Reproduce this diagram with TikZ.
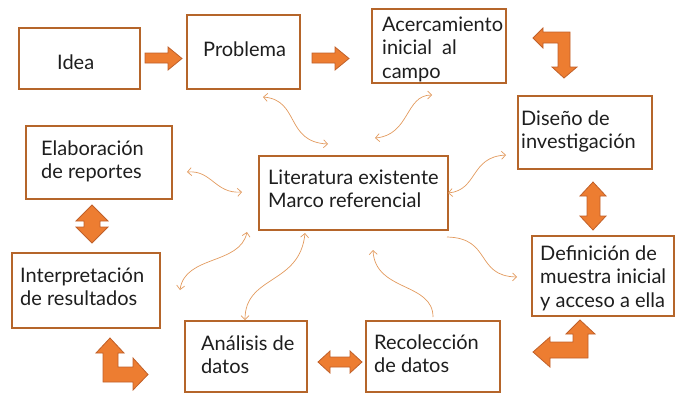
\documentclass[tikz,border=0pt]{standalone}
\usepackage{fontspec}
\setmainfont{Lato}
\usetikzlibrary{arrows.meta}
\definecolor{boxline}{HTML}{B5652A}
\definecolor{arrfill}{HTML}{ED7D31}
\definecolor{arrline}{HTML}{C0602A}
\definecolor{thin}{HTML}{E29A5E}
\definecolor{ink}{HTML}{1E1E1E}
\begin{document}
\begin{tikzpicture}[x=1pt,y=-1pt,
  box/.style={draw=boxline,line width=2.8pt,fill=white},
  txt/.style={anchor=base west,inner sep=0pt,text=ink,font=\fontsize{20}{23.5}\selectfont,align=left},
  blk/.style={fill=arrfill,draw=arrline,line width=0.8pt,line join=miter},
  curv/.style={draw=thin,line width=0.7pt},
  dbl/.style={curv,{Straight Barb[length=4pt,width=8pt]}-{Straight Barb[length=4pt,width=8pt]}},
  one/.style={curv,-{Straight Barb[length=4pt,width=8pt]}}]
\useasboundingbox (0,0) rectangle (676,394);
% boxes
\draw[box] (19,28) rectangle (140,89) coordinate (idea);
\draw[box] (187,15) rectangle (300,89) coordinate (prob);
\draw[box] (372,9) rectangle (506,83) coordinate (acer);
\draw[box] (518,96) rectangle (652,169) coordinate (dise);
\draw[box] (26,126) rectangle (172,199) coordinate (elab);
\draw[box] (259,156) rectangle (448,230) coordinate (lit);
\draw[box] (12,253) rectangle (160,328) coordinate (interp);
\draw[box] (185,321) rectangle (307,392) coordinate (anal);
\draw[box] (366,321) rectangle (500,392) coordinate (reco);
\draw[box] (532,236) rectangle (674,316) coordinate (defi);
% texts (anchored at the baseline of the last line)
\node[txt] (tidea) at (57,69) {Idea};
\node[txt] (tprob) at (203,56) {Problema};
\node[txt] (tacer) at (382,78) {Acercamiento\\inicial\ \ al\\campo};
\node[txt] (tdise) at (521,148.5) {Diseño de\\investigación};
\node[txt] (telab) at (41,178.5) {Elaboración\\de reportes};
\node[txt] (tlit) at (268,207.5) {Literatura existente\\Marco referencial};
\node[txt] (tinterp) at (20,305.5) {Interpretación\\de resultados};
\node[txt] (tanal) at (201,373.5) {Análisis de\\datos};
\node[txt] (treco) at (374,372.5) {Recolección\\de datos};
\node[txt] (tdefi) at (540,307) {Definición de\\muestra inicial\\y acceso a ella};
% block arrows
\draw[blk] (145,53)--(168,53)--(168,47)--(182,58.5)--(168,70)--(168,63)--(145,63)--cycle;
\draw[blk] (312,53)--(335,53)--(335,47)--(349,58.5)--(335,70)--(335,63)--(312,63)--cycle;
\draw[blk] (533,38)--(543,28)--(543,32)--(570,32)--(570,67)--(577,67)--(564,78)--(552,67)--(558,67)--(558,43)--(543,43)--(543,48)--cycle;
\draw[blk] (593,182)--(606,196)--(600,196)--(600,216)--(606,216)--(593,230)--(580,216)--(587,216)--(587,196)--(580,196)--cycle;
\draw[blk] (92,205)--(108,221)--(100,221)--(100,227)--(108,227)--(92,243)--(76,227)--(84,227)--(84,221)--(76,221)--cycle;
\draw[blk] (110,338)--(124,353)--(118,353)--(118,367)--(133,367)--(133,358)--(148,374.5)--(133,390)--(133,382)--(103,382)--(103,353)--(96,353)--cycle;
\draw[blk] (318,362)--(330,351)--(330,357)--(350,357)--(350,351)--(362,362)--(350,373)--(350,367)--(330,367)--(330,373)--cycle;
\draw[blk] (580,320)--(595,334)--(588,334)--(588,358)--(550,358)--(550,367)--(533,352)--(550,337)--(550,342)--(573,342)--(573,334)--(566,334)--cycle;
% thin curved connectors
\coordinate (a1) at (263,97); \coordinate (b1) at (328,144);
\coordinate (a2) at (432,95); \coordinate (b2) at (375,138);
\coordinate (a3) at (187,172); \coordinate (b3) at (242,192);
\coordinate (a4) at (448,193); \coordinate (b4) at (506,155);
\coordinate (a5) at (447,237); \coordinate (b5) at (517,277);
\coordinate (a6) at (433,317); \coordinate (b6) at (373,250);
\coordinate (a7) at (247,232); \coordinate (b7) at (180,290);
\coordinate (a8) at (305,233); \coordinate (b8) at (245,320);
\draw[dbl] (a1) .. controls (300,100) and (285,142) .. (b1);
\draw[dbl] (a2) .. controls (405,95) and (410,135) .. (b2);
\draw[dbl] (a3) .. controls (212,170) and (215,194) .. (b3);
\draw[dbl] (a4) .. controls (478,190) and (470,157) .. (b4);
\draw[one] (a5) .. controls (492,238) and (475,276) .. (b5);
\draw[one] (a6) .. controls (433,282) and (375,292) .. (b6);
\draw[dbl] (a7) .. controls (240,265) and (185,255) .. (b7);
\draw[dbl] (a8) .. controls (300,285) and (245,275) .. (b8);
\end{tikzpicture}
\end{document}
